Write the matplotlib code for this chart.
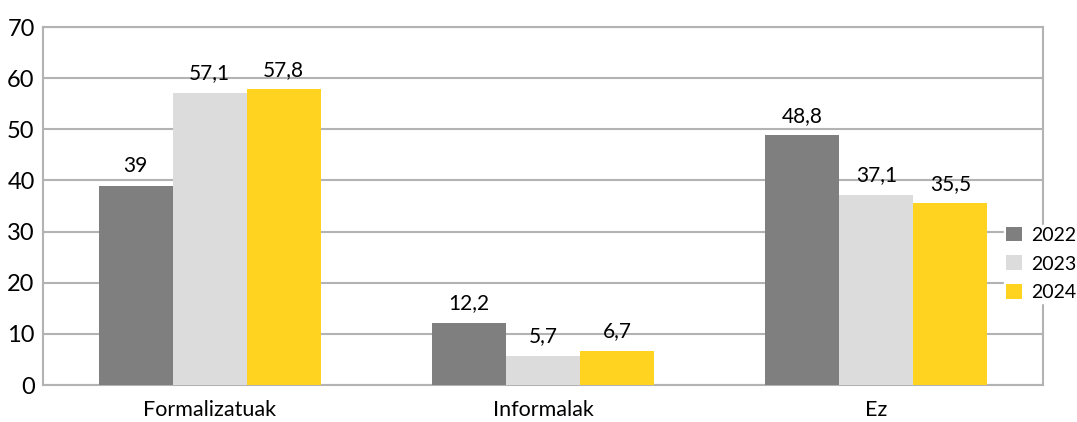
import numpy as np
import matplotlib.pyplot as plt

plt.rcParams['font.family'] = ['Lato', 'DejaVu Sans']

categories = ["Formalizatuak", "Informalak", "Ez"]
years = ["2022", "2023", "2024"]
v2022 = [39, 12.2, 48.8]
v2023 = [57.1, 5.7, 37.1]
v2024 = [57.8, 6.7, 35.5]
colors = ["#7f7f7f", "#dcdcdc", "#ffd320"]

fig = plt.figure(figsize=(10.77, 4.22), dpi=100)
ax = fig.add_axes([43/1077, 1 - 385/422, 1000/1077, 358/422])

x = np.arange(len(categories))
w = 0.222
for i, (vals, yr) in enumerate(zip([v2022, v2023, v2024], years)):
    bars = ax.bar(x + (i - 1) * w, vals, w, color=colors[i], label=yr, zorder=3)
    labels = [f"{v:g}".replace(".", ",") for v in vals]
    ax.bar_label(bars, labels=labels, padding=7, fontsize=15)

ax.set_xlim(-0.5, 2.5)
ax.set_ylim(0, 70)
ax.set_yticks(range(0, 71, 10))
ax.set_xticks(x)
ax.set_xticklabels(categories, fontsize=15.5)
ax.tick_params(axis='y', length=0, labelsize=17, pad=6)
ax.tick_params(axis='x', length=0, pad=11)
ax.grid(axis='y', color="#b3b3b3", linewidth=1.5, zorder=0)
for s in ax.spines.values():
    s.set_color("#b3b3b3")
    s.set_linewidth(1.5)

leg = fig.legend(loc='center left', bbox_to_anchor=(1004/1077, 1 - 264/422),
                 frameon=True, fontsize=14, handlelength=0.8, handleheight=0.8,
                 handletextpad=0.5, labelspacing=0.6, borderpad=0.1, borderaxespad=0)
leg.get_frame().set_edgecolor('white')
leg.get_frame().set_facecolor('white')
leg.get_frame().set_alpha(1)

fig.savefig("out.png", dpi=100)
